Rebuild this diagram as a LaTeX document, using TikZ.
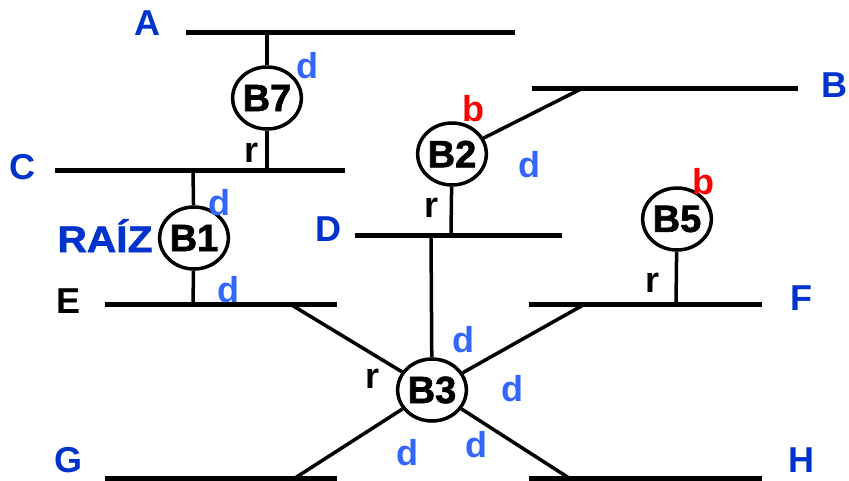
\documentclass[tikz,border=0pt]{standalone}
\usepackage{fontspec}
\setmainfont{Liberation Sans}
\newfontfamily\heavyfont{Liberation Sans Bold}[FakeBold=1.6]
\newfontfamily\widefont{Liberation Sans Bold}[FakeBold=1.6, FakeStretch=1.1]
\usetikzlibrary{
		shapes.geometric
	}
\definecolor{lanblue}{RGB}{0,51,204}
\definecolor{portblue}{RGB}{51,102,255}
\tikzset{
		lan/.style={line width=5pt},
		link/.style={line width=3.5pt},
		bridge/.style={ellipse, draw, line width=3.5pt, minimum width=68pt, minimum height=62pt, inner sep=0pt, font=\heavyfont\fontsize{38}{42}\selectfont},
		lbl/.style={inner sep=0pt, font=\bfseries\fontsize{36}{40}\selectfont},
		lanname/.style={lbl, text=lanblue},
		dport/.style={lbl, text=portblue},
		bport/.style={lbl, text=red}
	}
\begin{document}
\begin{tikzpicture}[x=1pt, y=-1pt]
        \clip (0,0) rectangle (849,480);

        % the LAN segments
        \coordinate (A1) at (186,32);  \coordinate (A2) at (515,32);
        \coordinate (B1l) at (532,88); \coordinate (B2l) at (798,88);
        \coordinate (C1) at (55,170);  \coordinate (C2) at (345,170);
        \coordinate (D1) at (355,235); \coordinate (D2) at (562,235);
        \coordinate (E1) at (105,304); \coordinate (E2) at (337,304);
        \coordinate (F1) at (529,304); \coordinate (F2) at (762,304);
        \coordinate (G1) at (105,478); \coordinate (G2) at (337,478);
        \coordinate (H1) at (529,478); \coordinate (H2) at (762,478);
        \draw[lan] (A1) -- (A2);
        \draw[lan] (B1l) -- (B2l);
        \draw[lan] (C1) -- (C2);
        \draw[lan] (D1) -- (D2);
        \draw[lan] (E1) -- (E2);
        \draw[lan] (F1) -- (F2);
        \draw[lan] (G1) -- (G2);
        \draw[lan] (H1) -- (H2);

        % the LAN names
        \node[lanname] (lA) at (147,23) {A};
        \node[lanname] (lB) at (834,85) {B};
        \node[lanname] (lC) at (22,167) {C};
        \node[lanname] (lD) at (328,229) {D};
        \node[lbl] (lE) at (69,301) {E};
        \node[lanname] (lF) at (801,298) {F};
        \node[lanname] (lG) at (69,460) {G};
        \node[lanname] (lH) at (801,460) {H};
        \node[lanname, font=\widefont\fontsize{37}{40}\selectfont, anchor=base] (raiz) at (105,252) {RAÍZ};

        % the bridges
        \node[bridge] (B7) at (267,98) {B7};
        \node[bridge] (Bb1) at (194,238) {B1};
        \node[bridge] (Bb2) at (452,154) {B2};
        \node[bridge] (B5) at (677,219) {B5};
        \node[bridge] (B3) at (432,390) {B3};

        % where the bridges touch the LANs
        \coordinate (a7) at (267,32);
        \coordinate (c7) at (267,170);
        \coordinate (c1) at (193,170);
        \coordinate (e1) at (193,304);
        \coordinate (b2) at (583,88);
        \coordinate (d2) at (451,235);
        \coordinate (f5) at (676,304);
        \coordinate (d3) at (431,235);
        \coordinate (e3) at (290,304);
        \coordinate (f3) at (585,304);
        \coordinate (g3) at (295,478);
        \coordinate (h3) at (569,478);

        % draw the links
        \draw[link] (a7) -- (B7);
        \draw[link] (B7) -- (c7);
        \draw[link] (c1) -- (Bb1);
        \draw[link] (Bb1) -- (e1);
        \draw[link] (Bb2) -- (b2);
        \draw[link] (Bb2) -- (d2);
        \draw[link] (B5) -- (f5);
        \draw[link] (B3) -- (d3);
        \draw[link] (B3) -- (e3);
        \draw[link] (B3) -- (f3);
        \draw[link] (B3) -- (g3);
        \draw[link] (B3) -- (h3);

        % the port states
        \node[dport] (p7d) at (307,66) {d};
        \node[lbl] (p7r) at (252,153) {r};
        \node[dport] (p1c) at (219,203) {d};
        \node[dport] (p1e) at (228,290) {d};
        \node[bport] (p2b) at (473,109) {b};
        \node[dport] (p2d) at (529,165) {d};
        \node[lbl] (p2r) at (432,208) {r};
        \node[bport] (p5b) at (703,182) {b};
        \node[lbl] (p5r) at (652,283) {r};
        \node[lbl] (p3r) at (373,379) {r};
        \node[dport] (p3d) at (463,340) {d};
        \node[dport] (p3f) at (512,389) {d};
        \node[dport] (p3g) at (407,453) {d};
        \node[dport] (p3h) at (476,445) {d};

    \end{tikzpicture}
\end{document}
